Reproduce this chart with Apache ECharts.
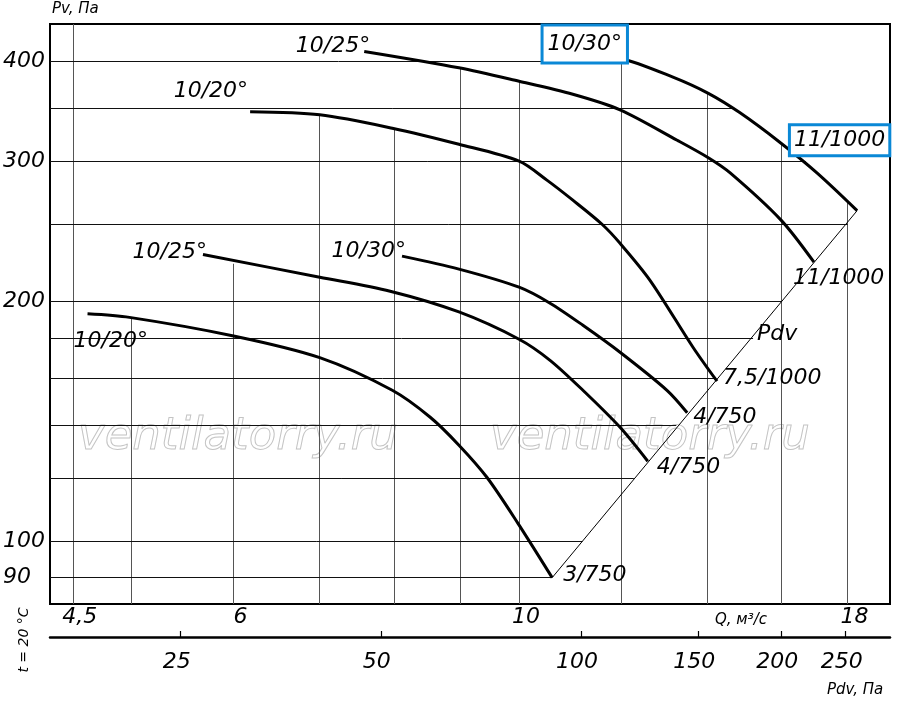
<!DOCTYPE html>
<html>
<head>
<meta charset="utf-8">
<script src="https://cdn.jsdelivr.net/npm/echarts@6/dist/echarts.min.js"></script>
<style>
  html, body { margin: 0; padding: 0; background: #fff; }
  #chart { width: 900px; height: 712px; }
</style>
</head>
<body>
<div id="chart"></div>
<script>
// axis ticks
var qTicks = [4.5, 6, 10, 18];
var pvTicks = [90, 100, 200, 300, 400];
var pdvTicks = [25, 50, 100, 150, 200, 250];

// fan curves, [Q m3/s, Pv Pa]
var curve1 = [[4.62, 193], [4.98, 191], [6.0, 181], [7.0, 170], [7.97, 154.7], [8.53, 143.1], [8.98, 132], [9.44, 120.3], [9.98, 105.3], [10.61, 90]];
var curve2 = [[5.68, 229], [7.0, 214.5], [7.94, 206], [8.98, 194], [10.0, 179.3], [10.57, 168.7], [11.21, 154.7], [11.98, 139], [12.59, 126]];
var curve3 = [[8.11, 228], [8.98, 219.6], [10.0, 208.4], [10.57, 199], [11.21, 186.7], [11.98, 172.7], [13.03, 154.7], [13.51, 145]];
var curve4 = [[6.18, 346], [7.0, 343], [7.97, 330], [8.98, 315], [10.0, 300], [10.51, 284], [11.01, 268], [11.6, 250], [11.98, 236.6], [12.64, 212.6], [13.65, 175.2], [14.25, 158.8]];
var curve5 = [[7.58, 412], [8.98, 393], [10.0, 378], [11.01, 364], [11.98, 348], [13.27, 318.7], [14.03, 303], [14.59, 290], [15.98, 253], [16.95, 224]];
var curve6 = [[10.92, 410], [11.98, 404], [13.17, 382.5], [14.03, 365], [14.85, 345], [15.98, 316], [17.04, 290], [18.31, 260]];
var pdvLine = [[10.61, 90], [18.31, 260]];

var startLabels = ['10/20°', '10/25°', '10/30°', '10/20°', '10/25°', '10/30°'];
var endLabels = ['3/750', '4/750', '4/750', '7,5/1000', '11/1000', '11/1000'];

// grid lines and how far each one runs
var qGrid = [4.5, 5, 6, 7, 8, 9, 10, 12, 14, 16, 18];
var qGridTop = [446, 191, 223, 343, 330, 393, 378, 404, 365, 316, 267];
var pvGrid = [90, 100, 120, 140, 160, 180, 200, 250, 300, 350, 400];
var pvGridEnd = [10.61, 11.2, 12.28, 13.25, 14.2, 15.2, 16.0, 18.0, 16.7, 14.7, 12.13];

var xMin = 4.32, xMax = 19.42, yMin = 83.4, yMax = 446;
var pdvMin = 15.9, pdvMax = 291.5;

var FONT = 'DejaVu Sans';
var BLUE = '#0a88d6';
var curves = [curve1, curve2, curve3, curve4, curve5, curve6];

function txt(size) {
  return { fontFamily: FONT, fontStyle: 'italic', fontSize: size, color: '#000' };
}

var startPos = [
  { align: 'left', offset: [-14, 28] },
  { align: 'right', offset: [4, -2] },
  { align: 'right', offset: [4, -5] },
  { align: 'right', offset: [-2, -21] },
  { align: 'right', offset: [6, -5] },
  { align: 'center', offset: [16.5, -9], box: [6, 4, 7, 4] }
];
var endPos = [
  { align: 'left', offset: [11, -2] },
  { align: 'left', offset: [9, 6] },
  { align: 'left', offset: [6, 5] },
  { align: 'left', offset: [6, -3] },
  { align: 'left', offset: [-21, 16] },
  { align: 'center', offset: [-17.5, -70.5], box: [3, 3, 3, 3] }
];

function labelItem(point, text, pos) {
  var lab = Object.assign({
    show: true, position: 'inside', formatter: text, opacity: 1, textBorderWidth: 0,
    align: pos.align, verticalAlign: 'middle', offset: pos.offset
  }, txt(22));
  if (pos.box) {
    lab.borderColor = BLUE;
    lab.borderWidth = 3;
    lab.backgroundColor = '#fff';
    lab.padding = pos.box;
  }
  return { value: point, label: lab };
}

var labelData = [];
curves.forEach(function (c, i) {
  labelData.push(labelItem(c[0], startLabels[i], startPos[i]));
  labelData.push(labelItem(c[c.length - 1], endLabels[i], endPos[i]));
});

var vLines = qGrid.map(function (q, i) { return { coords: [[q, yMin], [q, qGridTop[i]]] }; });
var hLines = pvGrid.map(function (p, i) { return { coords: [[xMin, p], [pvGridEnd[i], p]] }; });

var series = [
  { type: 'lines', coordinateSystem: 'cartesian2d', data: vLines, z: 1, silent: true,
    lineStyle: { color: '#555', width: 1, opacity: 1 } },
  { type: 'lines', coordinateSystem: 'cartesian2d', data: hLines, z: 1, silent: true,
    lineStyle: { color: '#111', width: 1, opacity: 1 } },
  { type: 'line', data: pdvLine, showSymbol: false, z: 3, silent: true,
    lineStyle: { color: '#000', width: 1 } }
];
curves.forEach(function (c) {
  series.push({ type: 'line', data: c, smooth: 0.3, showSymbol: false, z: 3, silent: true,
    lineStyle: { color: '#000', width: 3 } });
});
series.push({ type: 'scatter', data: labelData, symbolSize: 0, z: 5, silent: true,
  itemStyle: { color: 'rgba(0,0,0,0)', opacity: 1 } });

var chart = echarts.init(document.getElementById('chart'));
chart.setOption({
  animation: false,
  backgroundColor: '#fff',
  grid: [
    { left: 50, right: 10, top: 24, bottom: 108, show: true, borderColor: '#000', borderWidth: 2, backgroundColor: 'transparent' },
    { left: 50, right: 10, top: 600, height: 37 }
  ],
  xAxis: [
    { type: 'log', gridIndex: 0, min: xMin, max: xMax,
      axisLine: { show: false }, axisTick: { show: false }, splitLine: { show: false },
      axisLabel: Object.assign({ customValues: qTicks, margin: 2, padding: [0, 0, 0, 14],
        formatter: function (v) { return String(v).replace('.', ','); } }, txt(22)) },
    { type: 'log', gridIndex: 1, min: pdvMin, max: pdvMax, position: 'bottom',
      axisLine: { show: true, lineStyle: { color: '#000', width: 2.5 } },
      axisTick: { show: true, inside: true, length: 6, customValues: pdvTicks, lineStyle: { color: '#000', width: 1.2 } },
      splitLine: { show: false },
      axisLabel: Object.assign({ customValues: pdvTicks, margin: 14, padding: [0, 8, 0, 0] }, txt(22)) }
  ],
  yAxis: [
    { type: 'log', gridIndex: 0, min: yMin, max: yMax,
      axisLine: { show: false }, axisTick: { show: false }, splitLine: { show: false },
      axisLabel: Object.assign({ customValues: pvTicks, margin: 47, align: 'left' }, txt(22)) },
    { type: 'value', gridIndex: 1, show: false }
  ],
  series: series,
  graphic: [
    { type: 'text', left: 52, top: 2, z: 10, style: { text: 'Pv, Па', font: 'italic 15px "DejaVu Sans"', fill: '#000' } },
    { type: 'text', x: 715, y: 620, z: 10, style: { text: 'Q, м³/с', font: 'italic 15px "DejaVu Sans"', fill: '#000', verticalAlign: 'middle' } },
    { type: 'text', x: 827, y: 690, z: 10, style: { text: 'Pdv, Па', font: 'italic 15px "DejaVu Sans"', fill: '#000', verticalAlign: 'middle' } },
    { type: 'text', x: 24, y: 640, rotation: Math.PI / 2, z: 10, style: { text: 't = 20 °C', font: 'italic 14px "DejaVu Sans"', fill: '#000', align: 'center', verticalAlign: 'middle' } },
    { type: 'text', x: 757, y: 334, z: 10, style: { text: 'Pdv', font: 'italic 22px "DejaVu Sans"', fill: '#000', verticalAlign: 'middle' } },
    { type: 'text', x: 78, y: 437, z: 0, style: { text: 'ventilatorry.ru', font: 'italic 45px "DejaVu Sans"', fill: 'none', stroke: '#c4c4c4', lineWidth: 1, verticalAlign: 'middle' } },
    { type: 'text', x: 490, y: 437, z: 0, style: { text: 'ventilatorry.ru', font: 'italic 45px "DejaVu Sans"', fill: 'none', stroke: '#c4c4c4', lineWidth: 1, verticalAlign: 'middle' } }
  ]
});
</script>
</body>
</html>
